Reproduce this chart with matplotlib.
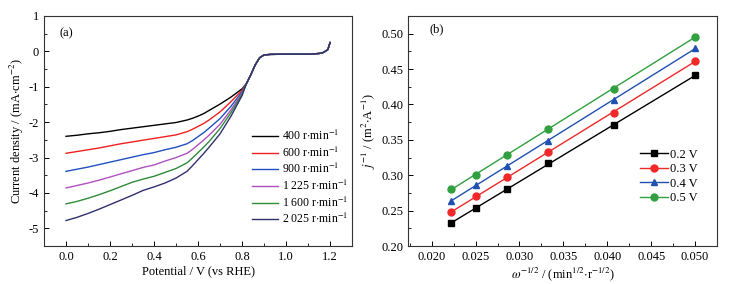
import matplotlib
matplotlib.use("Agg")
import matplotlib.pyplot as plt
import numpy as np
from matplotlib.ticker import MultipleLocator

plt.rcParams["font.family"] = ["Liberation Serif", "DejaVu Serif"]
plt.rcParams["mathtext.fontset"] = "stix"
plt.rcParams["font.size"] = 9

# (a) LSV curves
pot_low = [0.0, 0.05, 0.1, 0.15, 0.2, 0.25, 0.3, 0.35, 0.4, 0.45, 0.5,
           0.55, 0.575, 0.6, 0.625, 0.65, 0.7, 0.75, 0.8]
pot_tail = [0.82, 0.84, 0.86, 0.88, 0.9, 0.93, 1.0, 1.1, 1.15, 1.17, 1.19, 1.2]
j_tail = [-0.91, -0.66, -0.38, -0.18, -0.10, -0.085, -0.08, -0.08, -0.06, -0.03, 0.05, 0.25]

j_400 = [-2.40, -2.37, -2.33, -2.30, -2.26, -2.21, -2.17, -2.13, -2.09, -2.05, -2.01,
         -1.94, -1.89, -1.83, -1.76, -1.67, -1.49, -1.29, -1.06]
j_600 = [-2.88, -2.83, -2.78, -2.73, -2.67, -2.61, -2.56, -2.51, -2.46, -2.41, -2.36,
         -2.27, -2.20, -2.12, -2.04, -1.94, -1.71, -1.42, -1.10]
j_900 = [-3.39, -3.33, -3.27, -3.20, -3.13, -3.06, -2.99, -2.92, -2.86, -2.78, -2.71,
         -2.61, -2.52, -2.41, -2.30, -2.17, -1.90, -1.55, -1.14]
j_1225 = [-3.86, -3.79, -3.72, -3.64, -3.55, -3.46, -3.37, -3.28, -3.21, -3.10, -3.00,
          -2.88, -2.77, -2.64, -2.51, -2.37, -2.06, -1.65, -1.18]
j_1600 = [-4.31, -4.24, -4.15, -4.05, -3.94, -3.82, -3.70, -3.61, -3.53, -3.42, -3.31,
          -3.15, -3.01, -2.86, -2.71, -2.55, -2.18, -1.73, -1.21]
j_2025 = [-4.78, -4.69, -4.58, -4.46, -4.33, -4.20, -4.07, -3.93, -3.83, -3.72, -3.58,
          -3.39, -3.23, -3.06, -2.89, -2.71, -2.33, -1.83, -1.25]

lsv_labels = [r"400 r$\cdot$min$^{-1}$", r"600 r$\cdot$min$^{-1}$", r"900 r$\cdot$min$^{-1}$",
              r"1 225 r$\cdot$min$^{-1}$", r"1 600 r$\cdot$min$^{-1}$", r"2 025 r$\cdot$min$^{-1}$"]
lsv_colors = ["#000000", "#f02020", "#2050c0", "#b050c0", "#2f8a3a", "#303070"]

# (b) K-L plot
w_inv = [0.0222, 0.0250, 0.0286, 0.0333, 0.0408, 0.0500]
kl_02 = [0.232, 0.254, 0.280, 0.317, 0.371, 0.441]
kl_03 = [0.248, 0.270, 0.297, 0.333, 0.388, 0.462]
kl_04 = [0.264, 0.286, 0.313, 0.349, 0.406, 0.480]
kl_05 = [0.280, 0.301, 0.329, 0.366, 0.422, 0.496]
kl_labels = ["0.2 V", "0.3 V", "0.4 V", "0.5 V"]
kl_colors = ["#000000", "#f02828", "#2050b0", "#30a040"]
kl_markers = ["s", "o", "^", "o"]

fig = plt.figure(figsize=(7.5, 2.84), dpi=100)
ax1 = fig.add_axes([0.0587, 0.1338, 0.4107, 0.8099])
ax2 = fig.add_axes([0.544, 0.1338, 0.412, 0.8099])

for jj, lab, c in zip([j_400, j_600, j_900, j_1225, j_1600, j_2025], lsv_labels, lsv_colors):
    ax1.plot(pot_low + pot_tail, jj + j_tail, color=c, lw=1.0, label=lab)

ax1.set_xlim(-0.1, 1.3)
ax1.set_ylim(-5.5, 1)
ax1.xaxis.set_minor_locator(MultipleLocator(0.1))
ax1.yaxis.set_minor_locator(MultipleLocator(0.5))
ax1.set_xticks([0.0, 0.2, 0.4, 0.6, 0.8, 1.0, 1.2])
ax1.set_xticklabels(["0.0", "0.2", "0.4", "0.6", "0.8", "1.0", "1.2"])
ax1.set_yticks([-5, -4, -3, -2, -1, 0, 1])
ax1.set_yticklabels(["-5", "-4", "-3", "-2", "-1", "0", "1"])
ax1.set_xlabel("Potential / V (vs RHE)", labelpad=2)
ax1.set_ylabel(r"Current density / (mA$\cdot$cm$^{-2}$)", labelpad=2)
ax1.text(0.05, 0.91, "(a)", transform=ax1.transAxes)
ax1.legend(loc="upper left", bbox_to_anchor=(0.66, 0.53), frameon=False,
           handlelength=2.2, handletextpad=0.35, labelspacing=0.2, fontsize=8.5,
           borderaxespad=0)

for yy, lab, c, m in zip([kl_02, kl_03, kl_04, kl_05], kl_labels, kl_colors, kl_markers):
    k, b = np.polyfit(w_inv, yy, 1)
    xf = np.array([w_inv[0], w_inv[-1]])
    ax2.plot(xf, k * xf + b, color=c, lw=1.0)
    ax2.plot(w_inv, yy, ls="none", marker=m, ms=5, color=c)
    ax2.plot([], [], color=c, lw=1.0, marker=m, ms=5, label=lab)

ax2.set_xlim(0.0173, 0.0525)
ax2.set_ylim(0.2, 0.525)
ax2.xaxis.set_major_locator(MultipleLocator(0.005))
ax2.xaxis.set_minor_locator(MultipleLocator(0.0025))
ax2.yaxis.set_major_locator(MultipleLocator(0.05))
ax2.yaxis.set_minor_locator(MultipleLocator(0.025))
ax2.xaxis.set_major_formatter(plt.FormatStrFormatter("%.3f"))
ax2.yaxis.set_major_formatter(plt.FormatStrFormatter("%.2f"))
ax2.set_xlabel(r"$\omega^{-1/2}$ / (min$^{1/2}$$\cdot$r$^{-1/2}$)", labelpad=2)
ax2.set_ylabel(r"$j^{-1}$ / (m$^{2}$$\cdot$A$^{-1}$)", labelpad=2)
ax2.text(0.07, 0.93, "(b)", transform=ax2.transAxes)
ax2.legend(loc="upper left", bbox_to_anchor=(0.735, 0.445), frameon=False,
           handlelength=2.2, handletextpad=0.2, labelspacing=0.2,
           borderaxespad=0)

for ax in (ax1, ax2):
    ax.tick_params(which="both", direction="in", top=False, right=False)
    ax.tick_params(which="major", length=3.5, width=0.7)
    ax.tick_params(which="minor", length=2, width=0.6)
    for s in ax.spines.values():
        s.set_linewidth(0.8)
        s.set_color("#333333")

fig.savefig("out.png", dpi=100)
